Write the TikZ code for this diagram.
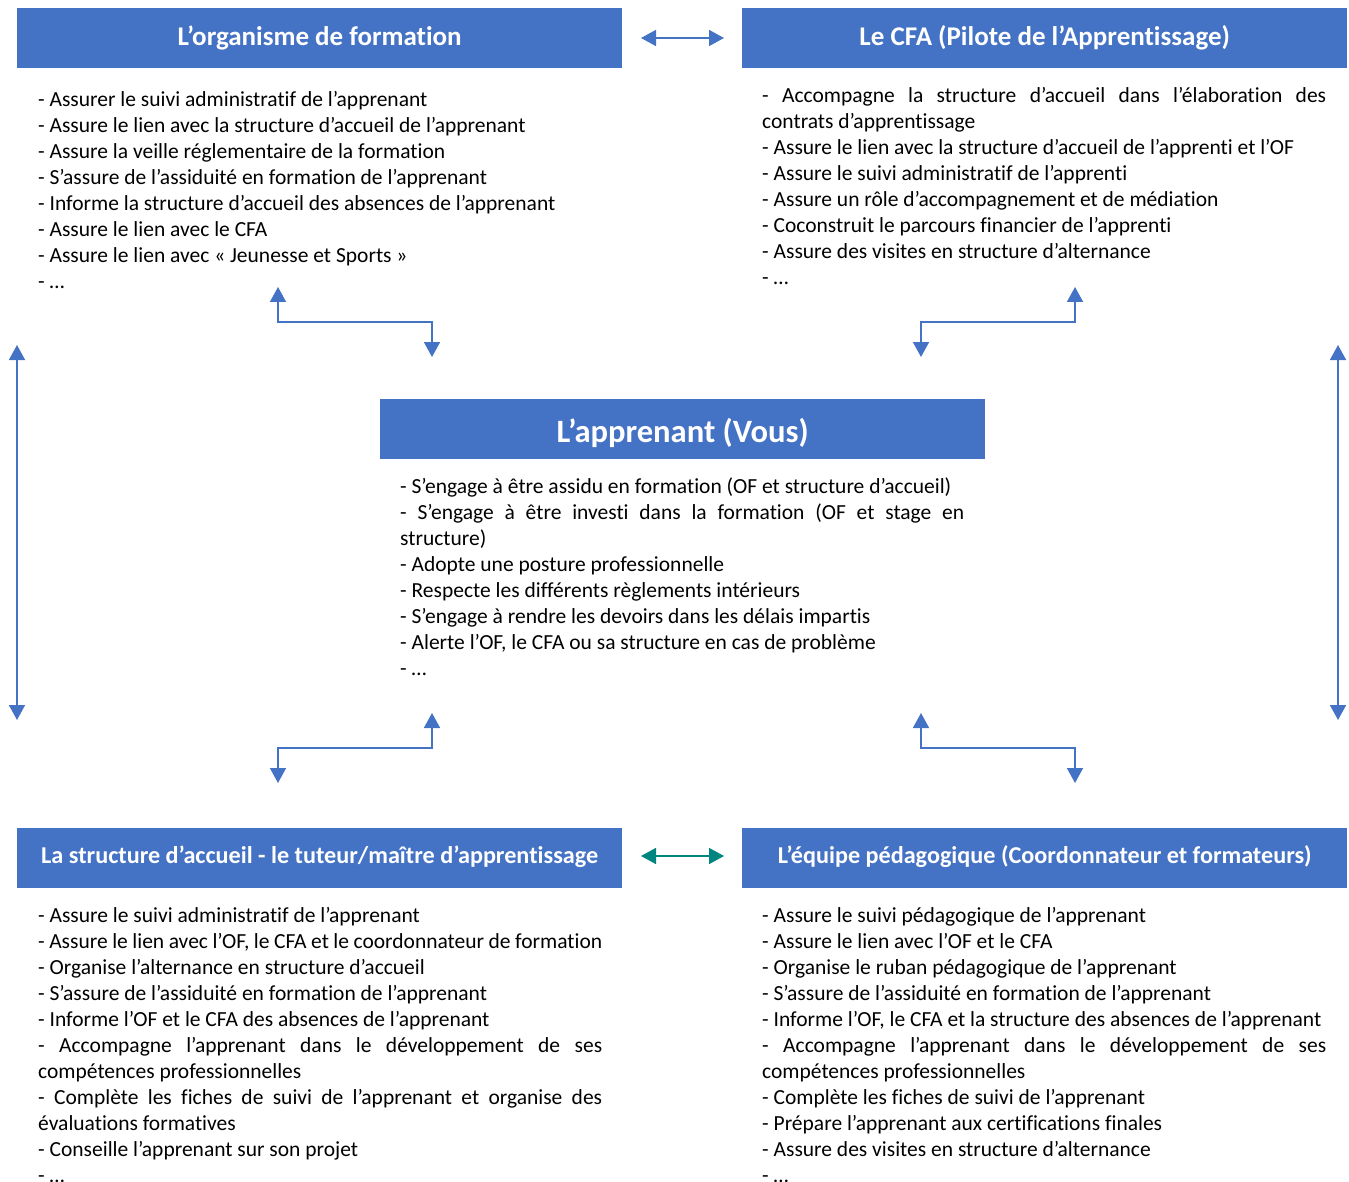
\documentclass[tikz,border=0pt]{standalone}
\usepackage{fontspec}
\setmainfont{Carlito}[Ligatures=NoCommon]
\usetikzlibrary{arrows.meta}
\definecolor{hdr}{HTML}{4472C4}
\definecolor{tealc}{HTML}{00857F}
\newcommand{\bodyfont}{\fontsize{21.5}{26}\selectfont\hyphenpenalty=10000 }
\tikzset{
 hdrbox/.style={fill=hdr, text=white, font={\bfseries\fontsize{27}{32}\selectfont}, minimum width=605pt, minimum height=60pt, inner sep=0pt, anchor=north west, text height=21.5pt, text depth=6pt},
 body/.style={anchor=north west, text width=564pt, inner sep=0pt, align=justify, font={\bodyfont}},
 link/.style={draw=hdr, line width=1.6pt, {Triangle[length=15pt,width=16pt]}-{Triangle[length=15pt,width=16pt]}},
}
\begin{document}
\begin{tikzpicture}[x=1pt,y=-1pt]
\useasboundingbox (0,0) rectangle (1349,1182);
% headers
\node[hdrbox] (hOF) at (17,8) {L’organisme de formation};
\node[hdrbox] (hCFA) at (742,8) {Le CFA (Pilote de l’Apprentissage)};
\node[hdrbox, font={\bfseries\fontsize{32.6}{38}\selectfont}, text height=34.6pt, text depth=8pt] (hApp) at (380,399) {L’apprenant (Vous)};
\node[hdrbox, font={\bfseries\fontsize{24.2}{29}\selectfont}, text height=15.6pt, text depth=6pt] (hStr) at (17,828) {La structure d’accueil - le tuteur/maître d’apprentissage};
\node[hdrbox, font={\bfseries\fontsize{24.2}{29}\selectfont}, text height=15.6pt, text depth=6pt] (hEq) at (742,828) {L’équipe pédagogique (Coordonnateur et formateurs)};
% bodies
\node[body] (bOF) at (38,91) {- Assurer le suivi administratif de l’apprenant\par
- Assure le lien avec la structure d’accueil de l’apprenant\par
- Assure la veille réglementaire de la formation\par
- S’assure de l’assiduité en formation de l’apprenant\par
- Informe la structure d’accueil des absences de l’apprenant\par
- Assure le lien avec le CFA\par
- Assure le lien avec «~Jeunesse et Sports~»\par
- …};
\node[body] (bCFA) at (762,87) {- Accompagne la structure d’accueil dans l’élaboration des\linebreak contrats d’apprentissage\par
- Assure le lien avec la structure d’accueil de l’apprenti et l’OF\par
- Assure le suivi administratif de l’apprenti\par
- Assure un rôle d’accompagnement et de médiation\par
- Coconstruit le parcours financier de l’apprenti\par
- Assure des visites en structure d’alternance\par
- …};
\node[body] (bApp) at (400,478) {- S’engage à être assidu en formation (OF et structure d’accueil)\par
- S’engage à être investi dans la formation (OF et stage en\linebreak structure)\par
- Adopte une posture professionnelle\par
- Respecte les différents règlements intérieurs\par
- S’engage à rendre les devoirs dans les délais impartis\par
- Alerte l’OF, le CFA ou sa structure en cas de problème\par
- …};
\node[body] (bStr) at (38,907) {- Assure le suivi administratif de l’apprenant\par
- Assure le lien avec l’OF, le CFA et le coordonnateur de formation\par
- Organise l’alternance en structure d’accueil\par
- S’assure de l’assiduité en formation de l’apprenant\par
- Informe l’OF et le CFA des absences de l’apprenant\par
- Accompagne l’apprenant dans le développement de ses\linebreak compétences professionnelles\par
- Complète les fiches de suivi de l’apprenant et organise des\linebreak évaluations formatives\par
- Conseille l’apprenant sur son projet\par
- …};
\node[body] (bEq) at (762,907) {- Assure le suivi pédagogique de l’apprenant\par
- Assure le lien avec l’OF et le CFA\par
- Organise le ruban pédagogique de l’apprenant\par
- S’assure de l’assiduité en formation de l’apprenant\par
- Informe l’OF, le CFA et la structure des absences de l’apprenant\par
- Accompagne l’apprenant dans le développement de ses\linebreak compétences professionnelles\par
- Complète les fiches de suivi de l’apprenant\par
- Prépare l’apprenant aux certifications finales\par
- Assure des visites en structure d’alternance\par
- …};
% arrow end points
\coordinate (t1) at (641,38); \coordinate (t2) at (724,38);
\coordinate (b1) at (641,856); \coordinate (b2) at (724,856);
\coordinate (l1) at (17,345); \coordinate (l2) at (17,720);
\coordinate (r1) at (1338,345); \coordinate (r2) at (1338,720);
\coordinate (tl1) at (278,287); \coordinate (tl2) at (432,357);
\coordinate (tr1) at (1075,287); \coordinate (tr2) at (921,357);
\coordinate (bl1) at (432,713); \coordinate (bl2) at (278,783);
\coordinate (br1) at (921,713); \coordinate (br2) at (1075,783);
% connectors
\draw[link] (t1) -- (t2);
\draw[link, draw=tealc] (b1) -- (b2);
\draw[link] (l1) -- (l2);
\draw[link] (r1) -- (r2);
\draw[link] (tl1) |- (355,322) -| (tl2);
\draw[link] (tr1) |- (998,322) -| (tr2);
\draw[link] (bl1) |- (355,748) -| (bl2);
\draw[link] (br1) |- (998,748) -| (br2);
\end{tikzpicture}
\end{document}
